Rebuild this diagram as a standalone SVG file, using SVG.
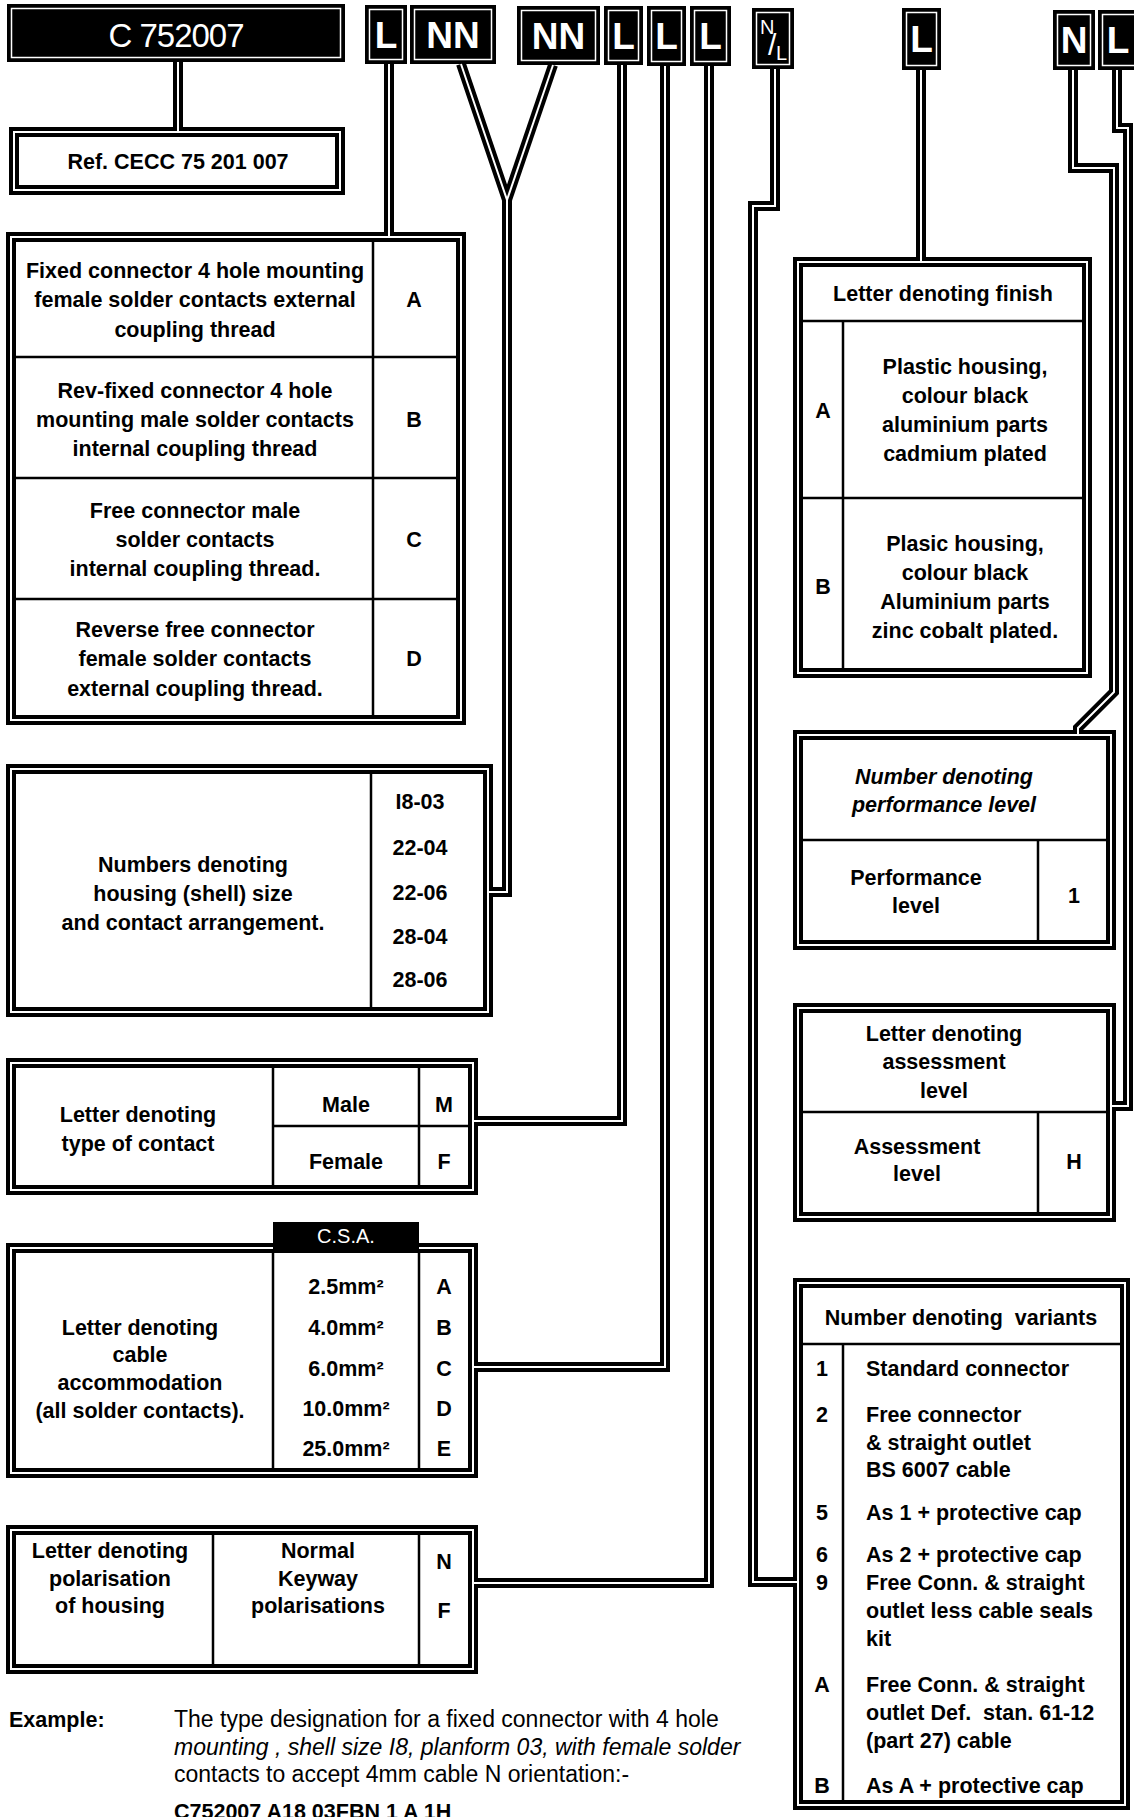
<svg xmlns="http://www.w3.org/2000/svg" width="1134" height="1817" viewBox="0 0 1134 1817">
<style>
.bk{fill:none;stroke:#000;stroke-width:10;stroke-linejoin:miter}
.wh{fill:none;stroke:#fff;stroke-width:2;stroke-linejoin:miter}
.dv{fill:none;stroke:#000;stroke-width:2.5}
.hb{fill:#000}
.hl{fill:none;stroke:#fff;stroke-width:1.5}
.ht{font-family:"Liberation Sans",Arial,sans-serif;font-weight:bold;font-size:37px;fill:#fff;text-anchor:middle}
.t{font-family:"Liberation Sans",Arial,sans-serif;font-weight:bold;font-size:21.5px;fill:#000;text-anchor:middle}
.l{text-anchor:start}
.i{font-style:italic}
.ex{font-family:"Liberation Sans",Arial,sans-serif;font-size:23px;fill:#000}
.exb{font-weight:bold;font-size:21.5px}
</style>
<rect width="1134" height="1817" fill="#fff"/>

<!-- heading code boxes -->
<g id="code-c752007">
<rect class="hb" x="7" y="4" width="338" height="58"/>
<rect class="hl" x="11.5" y="8.5" width="329" height="49"/>
<text x="176" y="47" style="font-family:'Liberation Sans',Arial,sans-serif;font-size:33px;fill:#fff;text-anchor:middle;letter-spacing:-1px">C 752007</text>
</g>
<g id="code-L1"><rect class="hb" x="365" y="5" width="42" height="59"/><rect class="hl" x="369.5" y="9.5" width="33" height="50"/><text class="ht" x="386" y="48">L</text></g>
<g id="code-NN1"><rect class="hb" x="410" y="5" width="86" height="59"/><rect class="hl" x="414.5" y="9.5" width="77" height="50"/><text class="ht" x="453" y="48">NN</text></g>
<g id="code-NN2"><rect class="hb" x="517" y="6" width="83" height="59"/><rect class="hl" x="521.5" y="10.5" width="74" height="50"/><text class="ht" x="558.5" y="49">NN</text></g>
<g id="code-L2"><rect class="hb" x="604" y="6" width="39" height="59"/><rect class="hl" x="608.5" y="10.5" width="30" height="50"/><text class="ht" x="623.5" y="49">L</text></g>
<g id="code-L3"><rect class="hb" x="647" y="6" width="39" height="60"/><rect class="hl" x="651.5" y="10.5" width="30" height="51"/><text class="ht" x="666.5" y="49">L</text></g>
<g id="code-L4"><rect class="hb" x="690" y="6" width="41" height="60"/><rect class="hl" x="694.5" y="10.5" width="32" height="51"/><text class="ht" x="710.5" y="49">L</text></g>
<g id="code-NL"><rect class="hb" x="752" y="8" width="42" height="61"/><rect class="hl" x="756.5" y="12.5" width="33" height="52"/>
<text x="760" y="34" style="font-family:'Liberation Sans',Arial,sans-serif;font-size:20px;fill:#fff"><tspan>N</tspan><tspan x="768" y="55" style="font-size:30px">/</tspan><tspan x="776" y="60">L</tspan></text></g>
<g id="code-L5"><rect class="hb" x="902" y="8" width="39" height="62"/><rect class="hl" x="906.5" y="12.5" width="30" height="53"/><text class="ht" x="921.5" y="52">L</text></g>
<g id="code-N"><rect class="hb" x="1053" y="10" width="42" height="60"/><rect class="hl" x="1057.5" y="14.5" width="33" height="51"/><text class="ht" x="1074" y="53">N</text></g>
<g id="code-L6"><rect class="hb" x="1098" y="10" width="42" height="60"/><rect class="hl" x="1102.5" y="14.5" width="33" height="51"/><text class="ht" x="1118" y="53">L</text></g>

<!-- Ref box -->
<g id="ref-box">
<rect class="bk" x="14" y="132" width="326" height="58"/><rect class="wh" x="14" y="132" width="326" height="58"/>
<text class="t" x="178" y="169">Ref. CECC 75 201 007</text>
</g>

<!-- Box 1 -->
<g id="connector-type">
<rect class="bk" x="11" y="237" width="450" height="483"/><rect class="wh" x="11" y="237" width="450" height="483"/>
<path class="dv" d="M373,242V715M16,357H456M16,478H456M16,599H456"/>
<text class="t" x="195" y="278">Fixed connector 4 hole mounting</text>
<text class="t" x="195" y="307">female solder contacts external</text>
<text class="t" x="195" y="337">coupling thread</text>
<text class="t" x="414" y="307">A</text>
<text class="t" x="195" y="398">Rev-fixed connector 4 hole</text>
<text class="t" x="195" y="427">mounting male solder contacts</text>
<text class="t" x="195" y="456">internal coupling thread</text>
<text class="t" x="414" y="427">B</text>
<text class="t" x="195" y="518">Free connector male</text>
<text class="t" x="195" y="547">solder contacts</text>
<text class="t" x="195" y="576">internal coupling thread.</text>
<text class="t" x="414" y="547">C</text>
<text class="t" x="195" y="637">Reverse free connector</text>
<text class="t" x="195" y="666">female solder contacts</text>
<text class="t" x="195" y="696">external coupling thread.</text>
<text class="t" x="414" y="666">D</text>
</g>

<!-- Box 2 -->
<g id="shell-size">
<rect class="bk" x="11" y="769" width="477" height="243"/><rect class="wh" x="11" y="769" width="477" height="243"/>
<path class="dv" d="M371,774V1007"/>
<text class="t" x="193" y="872">Numbers denoting</text>
<text class="t" x="193" y="901">housing (shell) size</text>
<text class="t" x="193" y="930">and contact arrangement.</text>
<text class="t" x="420" y="809">I8-03</text>
<text class="t" x="420" y="855">22-04</text>
<text class="t" x="420" y="900">22-06</text>
<text class="t" x="420" y="944">28-04</text>
<text class="t" x="420" y="987">28-06</text>
</g>

<!-- Box 3 -->
<g id="contact-type">
<rect class="bk" x="11" y="1063" width="462" height="127"/><rect class="wh" x="11" y="1063" width="462" height="127"/>
<path class="dv" d="M273,1068V1185M419,1068V1185M273,1126H468"/>
<text class="t" x="138" y="1122">Letter denoting</text>
<text class="t" x="138" y="1151">type of contact</text>
<text class="t" x="346" y="1112">Male</text>
<text class="t" x="346" y="1169">Female</text>
<text class="t" x="444" y="1112">M</text>
<text class="t" x="444" y="1169">F</text>
</g>

<!-- Box 4 -->
<g id="cable-accommodation">
<rect class="bk" x="11" y="1248" width="462" height="225"/><rect class="wh" x="11" y="1248" width="462" height="225"/>
<path class="dv" d="M273,1253V1468M419,1253V1468"/>
<rect class="hb" x="273" y="1222" width="146" height="29"/>
<text x="346" y="1243" style="font-family:'Liberation Sans',Arial,sans-serif;font-size:20px;fill:#fff;text-anchor:middle">C.S.A.</text>
<text class="t" x="140" y="1335">Letter denoting</text>
<text class="t" x="140" y="1362">cable</text>
<text class="t" x="140" y="1390">accommodation</text>
<text class="t" x="140" y="1418">(all solder contacts).</text>
<text class="t" x="346" y="1294">2.5mm²</text>
<text class="t" x="346" y="1335">4.0mm²</text>
<text class="t" x="346" y="1376">6.0mm²</text>
<text class="t" x="346" y="1416">10.0mm²</text>
<text class="t" x="346" y="1456">25.0mm²</text>
<text class="t" x="444" y="1294">A</text>
<text class="t" x="444" y="1335">B</text>
<text class="t" x="444" y="1376">C</text>
<text class="t" x="444" y="1416">D</text>
<text class="t" x="444" y="1456">E</text>
</g>

<!-- Box 5 -->
<g id="polarisation">
<rect class="bk" x="11" y="1530" width="462" height="139"/><rect class="wh" x="11" y="1530" width="462" height="139"/>
<path class="dv" d="M213,1535V1664M419,1535V1664"/>
<text class="t" x="110" y="1558">Letter denoting</text>
<text class="t" x="110" y="1586">polarisation</text>
<text class="t" x="110" y="1613">of housing</text>
<text class="t" x="318" y="1558">Normal</text>
<text class="t" x="318" y="1586">Keyway</text>
<text class="t" x="318" y="1613">polarisations</text>
<text class="t" x="444" y="1569">N</text>
<text class="t" x="444" y="1618">F</text>
</g>

<!-- Finish box -->
<g id="finish">
<rect class="bk" x="798" y="262" width="289" height="411"/><rect class="wh" x="798" y="262" width="289" height="411"/>
<path class="dv" d="M803,321H1082M843,321V668M803,498H1082"/>
<text class="t" x="943" y="301">Letter denoting finish</text>
<text class="t" x="823" y="418">A</text>
<text class="t" x="965" y="374">Plastic housing,</text>
<text class="t" x="965" y="403">colour black</text>
<text class="t" x="965" y="432">aluminium parts</text>
<text class="t" x="965" y="461">cadmium plated</text>
<text class="t" x="823" y="594">B</text>
<text class="t" x="965" y="551">Plasic housing,</text>
<text class="t" x="965" y="580">colour black</text>
<text class="t" x="965" y="609">Aluminium parts</text>
<text class="t" x="965" y="638">zinc cobalt plated.</text>
</g>

<!-- Performance box -->
<g id="performance">
<rect class="bk" x="798" y="735" width="313" height="210"/><rect class="wh" x="798" y="735" width="313" height="210"/>
<path class="dv" d="M803,840H1106M1038,840V940"/>
<text class="t i" x="944" y="784">Number denoting</text>
<text class="t i" x="944" y="812">performance level</text>
<text class="t" x="916" y="885">Performance</text>
<text class="t" x="916" y="913">level</text>
<text class="t" x="1074" y="903">1</text>
</g>

<!-- Assessment box -->
<g id="assessment">
<rect class="bk" x="798" y="1008" width="313" height="209"/><rect class="wh" x="798" y="1008" width="313" height="209"/>
<path class="dv" d="M803,1112H1106M1038,1112V1212"/>
<text class="t" x="944" y="1041">Letter denoting</text>
<text class="t" x="944" y="1069">assessment</text>
<text class="t" x="944" y="1098">level</text>
<text class="t" x="917" y="1154">Assessment</text>
<text class="t" x="917" y="1181">level</text>
<text class="t" x="1074" y="1169">H</text>
</g>

<!-- Variants box -->
<g id="variants">
<rect class="bk" x="798" y="1283" width="327" height="522"/><rect class="wh" x="798" y="1283" width="327" height="522"/>
<path class="dv" d="M803,1344H1120M843,1344V1800"/>
<text class="t" x="961" y="1325" xml:space="preserve">Number denoting  variants</text>
<text class="t" x="822" y="1376">1</text><text class="t l" x="866" y="1376">Standard connector</text>
<text class="t" x="822" y="1422">2</text><text class="t l" x="866" y="1422">Free connector</text>
<text class="t l" x="866" y="1450">&amp; straight outlet</text>
<text class="t l" x="866" y="1477">BS 6007 cable</text>
<text class="t" x="822" y="1520">5</text><text class="t l" x="866" y="1520">As 1 + protective cap</text>
<text class="t" x="822" y="1562">6</text><text class="t l" x="866" y="1562">As 2 + protective cap</text>
<text class="t" x="822" y="1590">9</text><text class="t l" x="866" y="1590">Free Conn. &amp; straight</text>
<text class="t l" x="866" y="1618">outlet less cable seals</text>
<text class="t l" x="866" y="1646">kit</text>
<text class="t" x="822" y="1692">A</text><text class="t l" x="866" y="1692">Free Conn. &amp; straight</text>
<text class="t l" x="866" y="1720" xml:space="preserve">outlet Def.  stan. 61-12</text>
<text class="t l" x="866" y="1748">(part 27) cable</text>
<text class="t" x="822" y="1793">B</text><text class="t l" x="866" y="1793">As A + protective cap</text>
</g>

<!-- Example -->
<g id="example">
<text class="ex exb" x="9" y="1727">Example:</text>
<text class="ex" x="174" y="1727">The type designation for a fixed connector with 4 hole</text>
<text class="ex i" x="174" y="1755">mounting , shell size I8, planform 03, with female solder</text>
<text class="ex" x="174" y="1782">contacts to accept 4mm cable N orientation:-</text>
<text class="ex exb" x="174" y="1819">C752007 A18 03FBN 1 A 1H</text>
</g>

<!-- connectors -->
<g id="connectors">
<g class="bk">
<path d="M178,62V131"/>
<path d="M389,64V236"/>
<path d="M461,64L507,200V892H489"/>
<path d="M553,65L507,200"/>
<path d="M622,65V1121H474"/>
<path d="M665,66V1367H474"/>
<path d="M709,66V1583H474"/>
<path d="M775,69V206H753V1582H797"/>
<path d="M921,70V261"/>
<path d="M1073,70V168H1114V692L1078,728V734"/>
<path d="M1117,70V128H1128V1106H1112"/>
</g>
<g class="wh">
<path d="M178,62V131"/>
<path d="M389,64V236"/>
<path d="M461,64L507,200V892H489"/>
<path d="M553,65L507,200"/>
<path d="M622,65V1121H474"/>
<path d="M665,66V1367H474"/>
<path d="M709,66V1583H474"/>
<path d="M775,69V206H753V1582H797"/>
<path d="M921,70V261"/>
<path d="M1073,70V168H1114V692L1078,728V734"/>
<path d="M1117,70V128H1128V1106H1112"/>
</g>
</g>
</svg>
